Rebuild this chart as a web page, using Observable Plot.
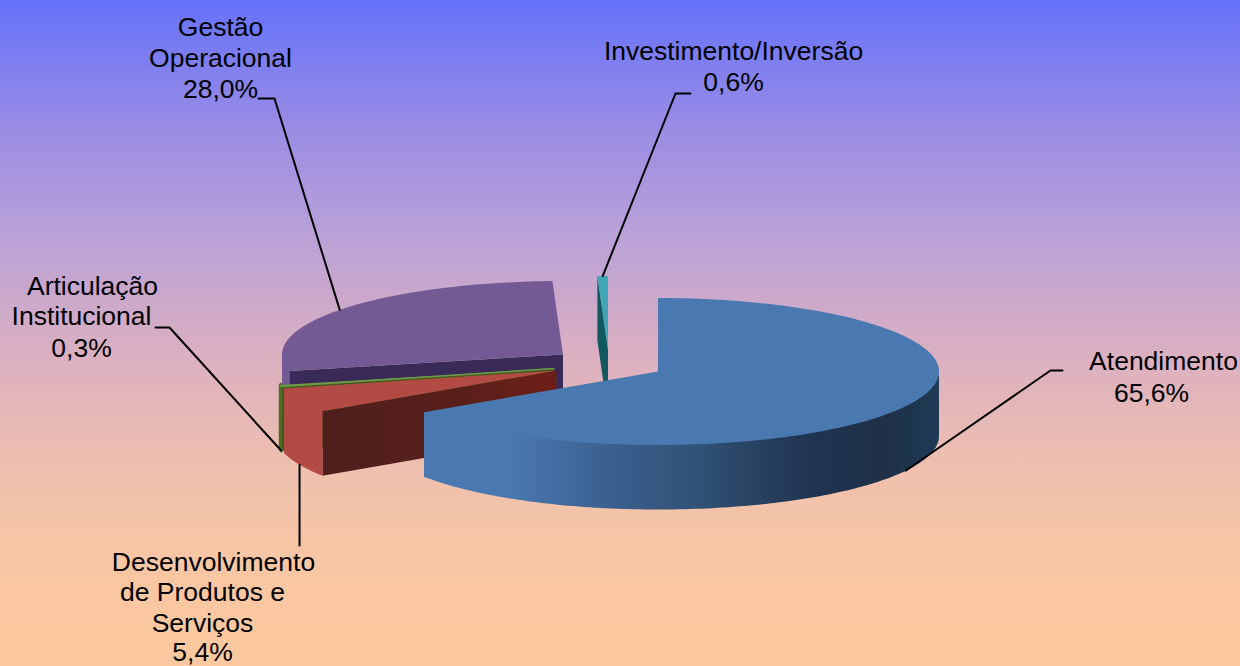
<!DOCTYPE html>
<html><head><meta charset="utf-8">
<script src="https://cdn.jsdelivr.net/npm/d3@7"></script>
<script src="https://cdn.jsdelivr.net/npm/@observablehq/plot@0.6"></script>
<style>html,body{margin:0;padding:0;background:#fac8a0}svg{display:block}</style>
</head><body><div id="chart"></div>
<script>
// Data, clockwise from 12 o'clock
const categories = ["Atendimento","Desenvolvimento de Produtos e Serviços","Articulação Institucional","Gestão Operacional","Investimento/Inversão"];
const values = [65.6, 5.4, 0.3, 28.0, 0.6];
const valueLabels = ["65,6%","5,4%","0,3%","28,0%","0,6%"];

// Layout
const W = 1240, H = 666;
const rx = 281, ry = 73.5, depth = 64.5;
const centers = [[657.5,371],[556,370],[553.5,368],[562.5,354],[607.5,349]];
const topFill = ["#4a79b1","#b34b44","#6f9a45","#745a94","#41a5b8"];
const sideFill = ["url(#blueSide)","#b34b44","#4d6a1f","#745a94","#41a5b8"];
const cutFill = [null,"url(#redCut)","#3f5a20","#3a2a58","#12585f"];
const labelLines = [
  [["Atendimento",1163,361],["65,6%",1151,393]],
  [["Desenvolvimento",213,562],["de Produtos e",202,592],["Serviços",202,623],["5,4%",202,652.5]],
  [["Articulação",92,286],["Institucional",81,316],["0,3%",81,348]],
  [["Gestão",220,27],["Operacional",220,58],["28,0%",220,89]],
  [["Investimento/Inversão",733,51],["0,6%",733,82]]
];
const elbows = [
  [[1062,370],[1050,370]],
  [],
  [[155,327],[169,327]],
  [[258,98],[274,98]],
  [[690,93],[675,93]]
];

const arcs = d3.pie().sort(null).startAngle(0).endAngle(2*Math.PI)(values);
const pt = (i,a,dz=0) => ({x:centers[i][0]+rx*Math.sin(a), y:centers[i][1]-ry*Math.cos(a)+dz});
const arcPts = (i,a0,a1,dz=0) => {
  const n = Math.max(2,Math.ceil(Math.abs(a1-a0)/0.02));
  return d3.range(n+1).map(k => pt(i,a0+(a1-a0)*k/n,dz));
};
const ctr = (i,dz=0) => ({x:centers[i][0], y:centers[i][1]+dz});

const shape = (pts,fill,extra={}) => Plot.line(pts,{x:"x",y:"y",fill,stroke:"none",...extra});

function sliceMarks(i){
  const {startAngle:a0,endAngle:a1} = arcs[i];
  const out = [];
  // cut face on the side that faces the viewer
  if (cutFill[i]) {
    out.push(shape([ctr(i),pt(i,a0),pt(i,a0,depth),ctr(i,depth)],cutFill[i]));
  }
  // front outer wall: the part of the arc with angle between 90° and 270°
  const f0 = Math.max(a0,Math.PI/2), f1 = Math.min(a1,3*Math.PI/2);
  if (f1>f0) {
    // interior points tuck under the top face so no seam shows between them
    const up = arcPts(i,f0,f1).map((p,k,all)=> (k>0&&k<all.length-1) ? {x:p.x,y:p.y-1.5} : p);
    const down = arcPts(i,f1,f0,depth);
    const w = i===2 ? {stroke:sideFill[i],strokeWidth:3} : {};
    out.push(shape([...up,...down],sideFill[i],w));
  }
  // top face
  const w = i===2 ? {stroke:topFill[i],strokeWidth:1.5} : {};
  out.push(shape([ctr(i),...arcPts(i,a0,a1)],topFill[i],w));
  return out;
}

const defs = () => {
  const s = d3.create("svg:defs");
  const grad = (id,x1,x2,stops) => {
    const g = s.append("linearGradient").attr("id",id).attr("gradientUnits","userSpaceOnUse")
      .attr("x1",x1).attr("x2",x2).attr("y1",0).attr("y2",0);
    stops.forEach(([o,c])=>g.append("stop").attr("offset",o).attr("stop-color",c));
  };
  grad("blueSide",424,938,[[0,"#4a79b1"],[0.16,"#4a79b1"],[0.35,"#3c6191"],[0.55,"#2f4f73"],[0.75,"#1f3450"],[0.9,"#1e3148"],[1,"#1e3a55"]]);
  grad("redCut",323,555,[[0,"#4f1f1d"],[0.6,"#5a1f1b"],[1,"#6e1f17"]]);
  return s.node();
};

const order = [3,4,2,1,0];
const sliceLayer = order.flatMap(sliceMarks);

const leaders = arcs.map((d,i)=>{
  const mid = (d.startAngle+d.endAngle)/2;
  const front = Math.cos(mid) < 0;
  return [...elbows[i].map(([x,y])=>({x,y})), pt(i,mid,front?depth:0)];
});
// Desenvolvimento's leader drops straight down to its label
leaders[1] = [{x:pt(1,(arcs[1].startAngle+arcs[1].endAngle)/2).x, y:545}, leaders[1][0]];
const leaderMarks = leaders.map(p=>Plot.line(p,{x:"x",y:"y",stroke:"#000",strokeWidth:2}));

const textRows = labelLines.flat().map(([t,x,y])=>({t,x,y}));

const chart = Plot.plot({
  width:W,height:H,margin:0,
  x:{domain:[0,W],range:[0,W],axis:null},
  y:{domain:[0,H],range:[0,H],axis:null},
  style:{background:"linear-gradient(180deg,#6572fa 0px,#9a8ce4 130px,#b8a0d8 230px,#dcb0c0 360px,#efc0ae 470px,#f8c6a3 560px,#fbc89f 640px,#fbc89f 666px)",fontFamily:"'Liberation Sans',Arial,sans-serif"},
  marks:[
    defs,
    ...sliceLayer,
    ...leaderMarks,
    Plot.text(textRows,{x:"x",y:"y",text:"t",fontSize:26.5,fill:"#000",textAnchor:"middle",lineAnchor:"middle"})
  ]
});
document.getElementById("chart").append(chart);
</script></body></html>
